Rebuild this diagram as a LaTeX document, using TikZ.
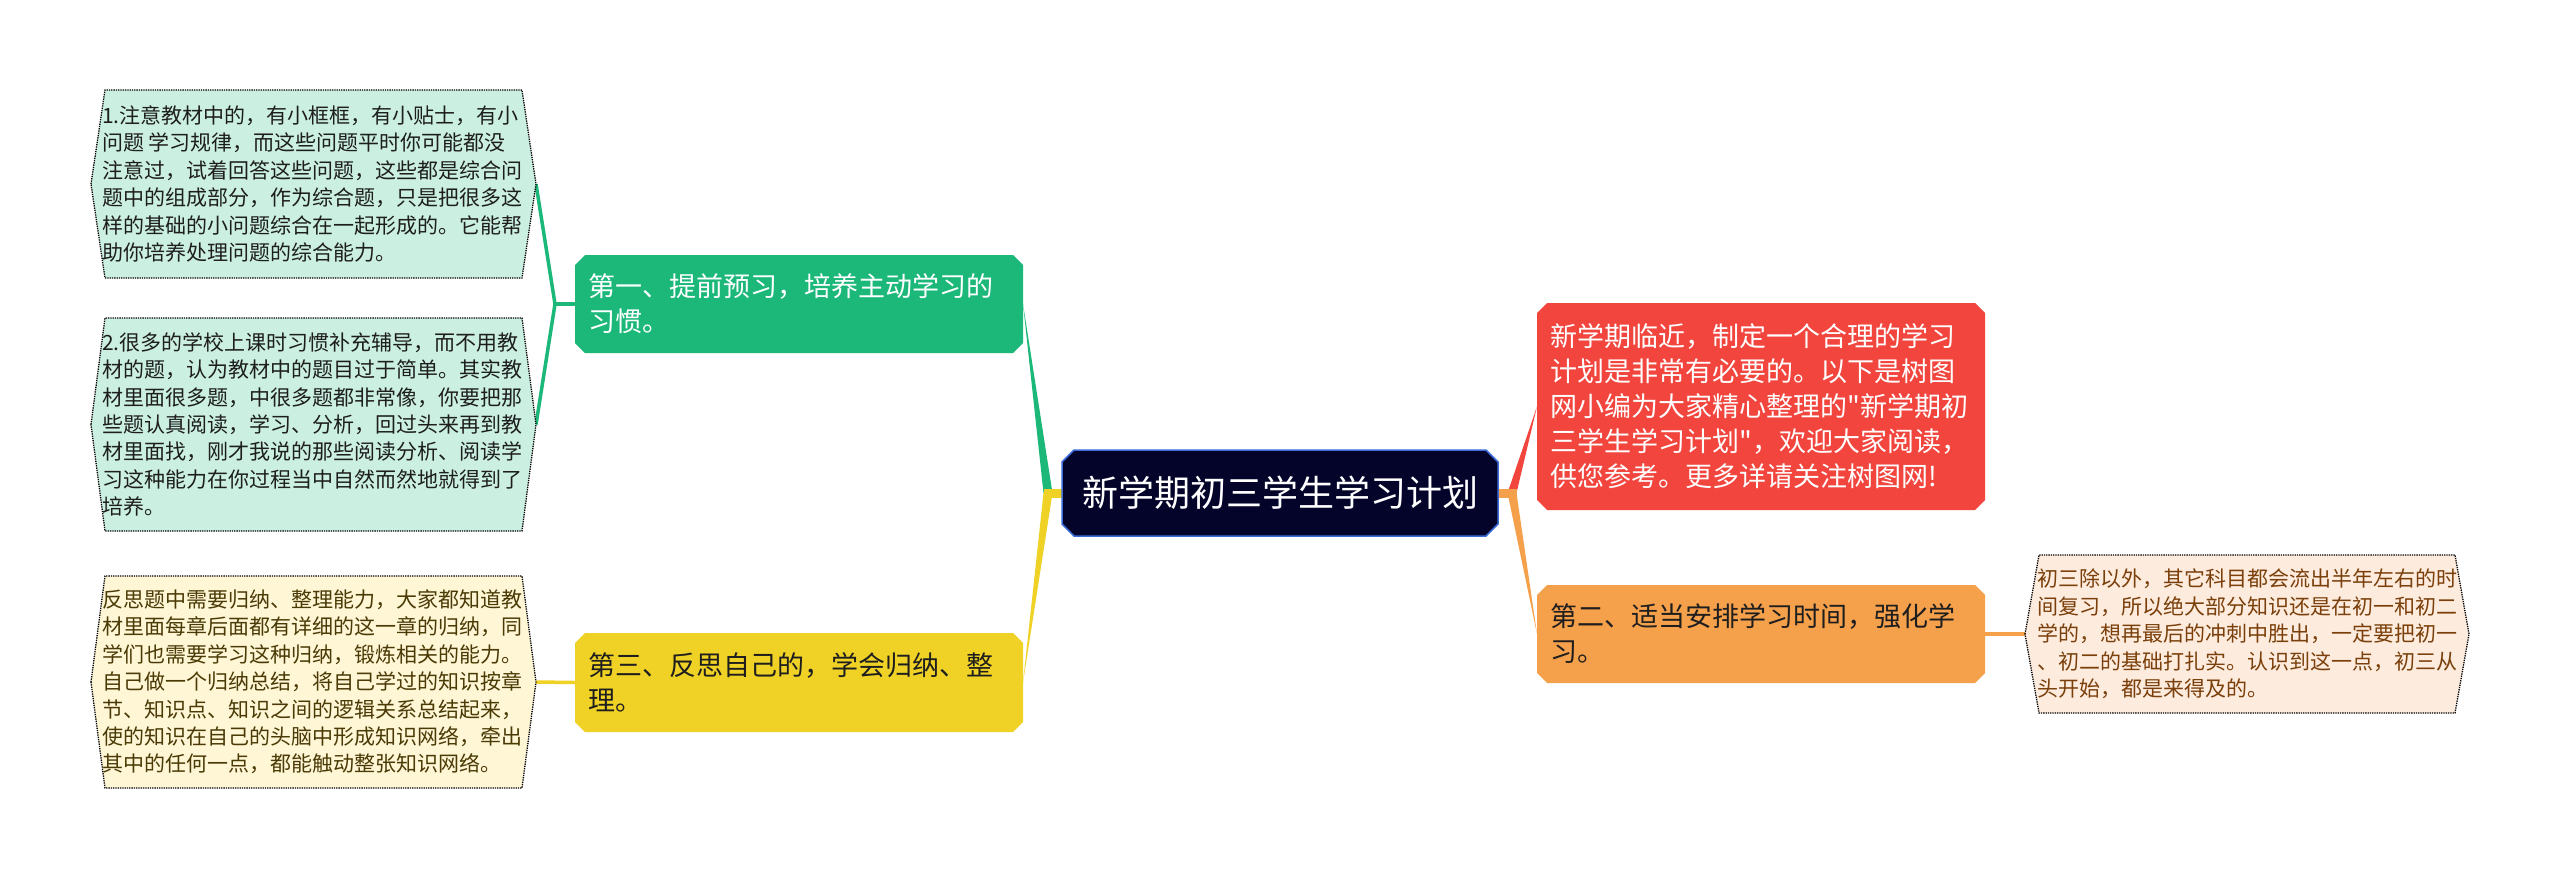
\documentclass[tikz,border=0pt]{standalone}
\usepackage{fontspec}
\setmainfont{Noto Sans CJK SC}[Ligatures=TeXOff]
\definecolor{cgreen}{HTML}{1BB87A}
\definecolor{clgreen}{HTML}{CBF0E1}
\definecolor{cyellow}{HTML}{F0D226}
\definecolor{clyellow}{HTML}{FFF6D6}
\definecolor{cred}{HTML}{F2453D}
\definecolor{corange}{HTML}{F5A04B}
\definecolor{clorange}{HTML}{FDEBDD}
\definecolor{croot}{HTML}{04042B}
\definecolor{crootline}{HTML}{3A6BD6}
\definecolor{ctxtdark}{HTML}{1E1E1E}
\definecolor{ctxtolive}{HTML}{4A3A05}
\definecolor{ctxtbrown}{HTML}{7A3F0A}
\newcommand\chamf[3]{\path[#3] ([xshift=#2]#1.north west) -- ([xshift=-#2]#1.north east) -- ([yshift=-#2]#1.north east) -- ([yshift=#2]#1.south east) -- ([xshift=-#2]#1.south east) -- ([xshift=#2]#1.south west) -- ([yshift=#2]#1.south west) -- ([yshift=-#2]#1.north west) -- cycle;}
\newcommand\hexleaf[2]{\path[leafline,fill=#2] ([xshift=-14pt]#1.west) -- (#1.north west) -- (#1.north east) -- ([xshift=14pt]#1.east) -- (#1.south east) -- (#1.south west) -- cycle;}
\begin{document}
\begin{tikzpicture}[x=1pt,y=-1pt,
  boxarea/.style={rectangle,draw=none,inner sep=0pt,outer sep=0pt},
  leafline/.style={draw=black,densely dotted,line width=1.3pt},
  ltxt/.style={inner sep=0pt,align=left,anchor=west,font=\fontsize{21}{27.4}\selectfont},
  btxt/.style={inner sep=0pt,align=left,anchor=west,font=\fontsize{27}{35}\selectfont},
  conn/.style={line width=3.5pt}]
\useasboundingbox[fill=white] (0,0) rectangle (2560,879);
% box areas
\node[boxarea,minimum width=436pt,minimum height=86pt] (root) at (1280,493) {};
\node[boxarea,minimum width=448pt,minimum height=98pt] (g) at (799,304) {};
\node[boxarea,minimum width=448pt,minimum height=99pt] (y) at (799,682.5) {};
\node[boxarea,minimum width=448pt,minimum height=207pt] (r) at (1761,406.5) {};
\node[boxarea,minimum width=448pt,minimum height=98pt] (o) at (1761,634) {};
\node[boxarea,minimum width=417pt,minimum height=188pt] (l1) at (313.5,184) {};
\node[boxarea,minimum width=417pt,minimum height=213pt] (l2) at (313.5,424.5) {};
\node[boxarea,minimum width=417pt,minimum height=212pt] (l3) at (313.5,682) {};
\node[boxarea,minimum width=416pt,minimum height=158pt] (l4) at (2247,634) {};
\coordinate (jl) at (1048,493);
\coordinate (jr) at (1512,493);
\coordinate (jg) at (555,304);
\coordinate (l1tip) at ([xshift=14pt]l1.east);
\coordinate (l2tip) at ([xshift=14pt]l2.east);
\coordinate (l3tip) at ([xshift=14pt]l3.east);
\coordinate (l4tip) at ([xshift=-14pt]l4.west);
% connectors
\fill[cgreen] ([xshift=-4.5pt]jl) -- ([xshift=4.5pt]jl) -- (g.east) -- cycle;
\fill[cyellow] ([xshift=-4.5pt]jl) -- ([xshift=4.5pt]jl) -- (y.east) -- cycle;
\draw[cyellow,line width=9pt] ([xshift=-4.5pt]jl) -- (root.west);
\fill[cred] ([xshift=-4.5pt]jr) -- ([xshift=4.5pt]jr) -- (r.west) -- cycle;
\fill[corange] ([xshift=-4.5pt]jr) -- ([xshift=4.5pt]jr) -- (o.west) -- cycle;
\draw[corange,line width=9pt] (root.east) -- ([xshift=4.5pt]jr);
\draw[cgreen,conn] (l1tip) -- (jg) -- (l2tip);
\draw[cgreen,conn] (jg) -- (g.west);
\draw[cyellow,conn] (l3tip) -- (y.west);
\draw[corange,conn] (o.east) -- (l4tip);
% shapes
\chamf{root}{12pt}{fill=croot,draw=crootline,line width=1.5pt}
\chamf{g}{10pt}{fill=cgreen}
\chamf{y}{10pt}{fill=cyellow}
\chamf{r}{10pt}{fill=cred}
\chamf{o}{10pt}{fill=corange}
\hexleaf{l1}{clgreen}
\hexleaf{l2}{clgreen}
\hexleaf{l3}{clyellow}
\hexleaf{l4}{clorange}
% texts
\node[inner sep=0pt,text=white,font=\fontsize{36}{42}\selectfont] (roott) at (root.center) {新学期初三学生学习计划};
\node[btxt,text=white] (gt) at ([xshift=13pt]g.west) {第一、提前预习，培养主动学习的\\习惯。};
\node[btxt,text=ctxtdark] (yt) at ([xshift=13pt]y.west) {第三、反思自己的，学会归纳、整\\理。};
\node[btxt,text=white] (rt) at ([xshift=13pt]r.west) {新学期临近，制定一个合理的学习\\计划是非常有必要的。以下是树图\\网小编为大家精心整理的"新学期初\\三学生学习计划"，欢迎大家阅读，\\供您参考。更多详请关注树图网!};
\node[btxt,text=ctxtdark] (ot) at ([xshift=13pt]o.west) {第二、适当安排学习时间，强化学\\习。};
\node[ltxt,text=ctxtdark] (l1t) at ([xshift=-3pt]l1.west) {1.注意教材中的，有小框框，有小贴士，有小\\问题 学习规律，而这些问题平时你可能都没\\注意过，试着回答这些问题，这些都是综合问\\题中的组成部分，作为综合题，只是把很多这\\样的基础的小问题综合在一起形成的。它能帮\\助你培养处理问题的综合能力。};
\node[ltxt,text=ctxtdark] (l2t) at ([xshift=-3pt]l2.west) {2.很多的学校上课时习惯补充辅导，而不用教\\材的题，认为教材中的题目过于简单。其实教\\材里面很多题，中很多题都非常像，你要把那\\些题认真阅读，学习、分析，回过头来再到教\\材里面找，刚才我说的那些阅读分析、阅读学\\习这种能力在你过程当中自然而然地就得到了\\培养。};
\node[ltxt,text=ctxtolive] (l3t) at ([xshift=-3pt]l3.west) {反思题中需要归纳、整理能力，大家都知道教\\材里面每章后面都有详细的这一章的归纳，同\\学们也需要学习这种归纳，锻炼相关的能力。\\自己做一个归纳总结，将自己学过的知识按章\\节、知识点、知识之间的逻辑关系总结起来，\\使的知识在自己的头脑中形成知识网络，牵出\\其中的任何一点，都能触动整张知识网络。};
\node[ltxt,text=ctxtbrown] (l4t) at ([xshift=-2pt]l4.west) {初三除以外，其它科目都会流出半年左右的时\\间复习，所以绝大部分知识还是在初一和初二\\学的，想再最后的冲刺中胜出，一定要把初一\\、初二的基础打扎实。认识到这一点，初三从\\头开始，都是来得及的。};
\end{tikzpicture}
\end{document}
